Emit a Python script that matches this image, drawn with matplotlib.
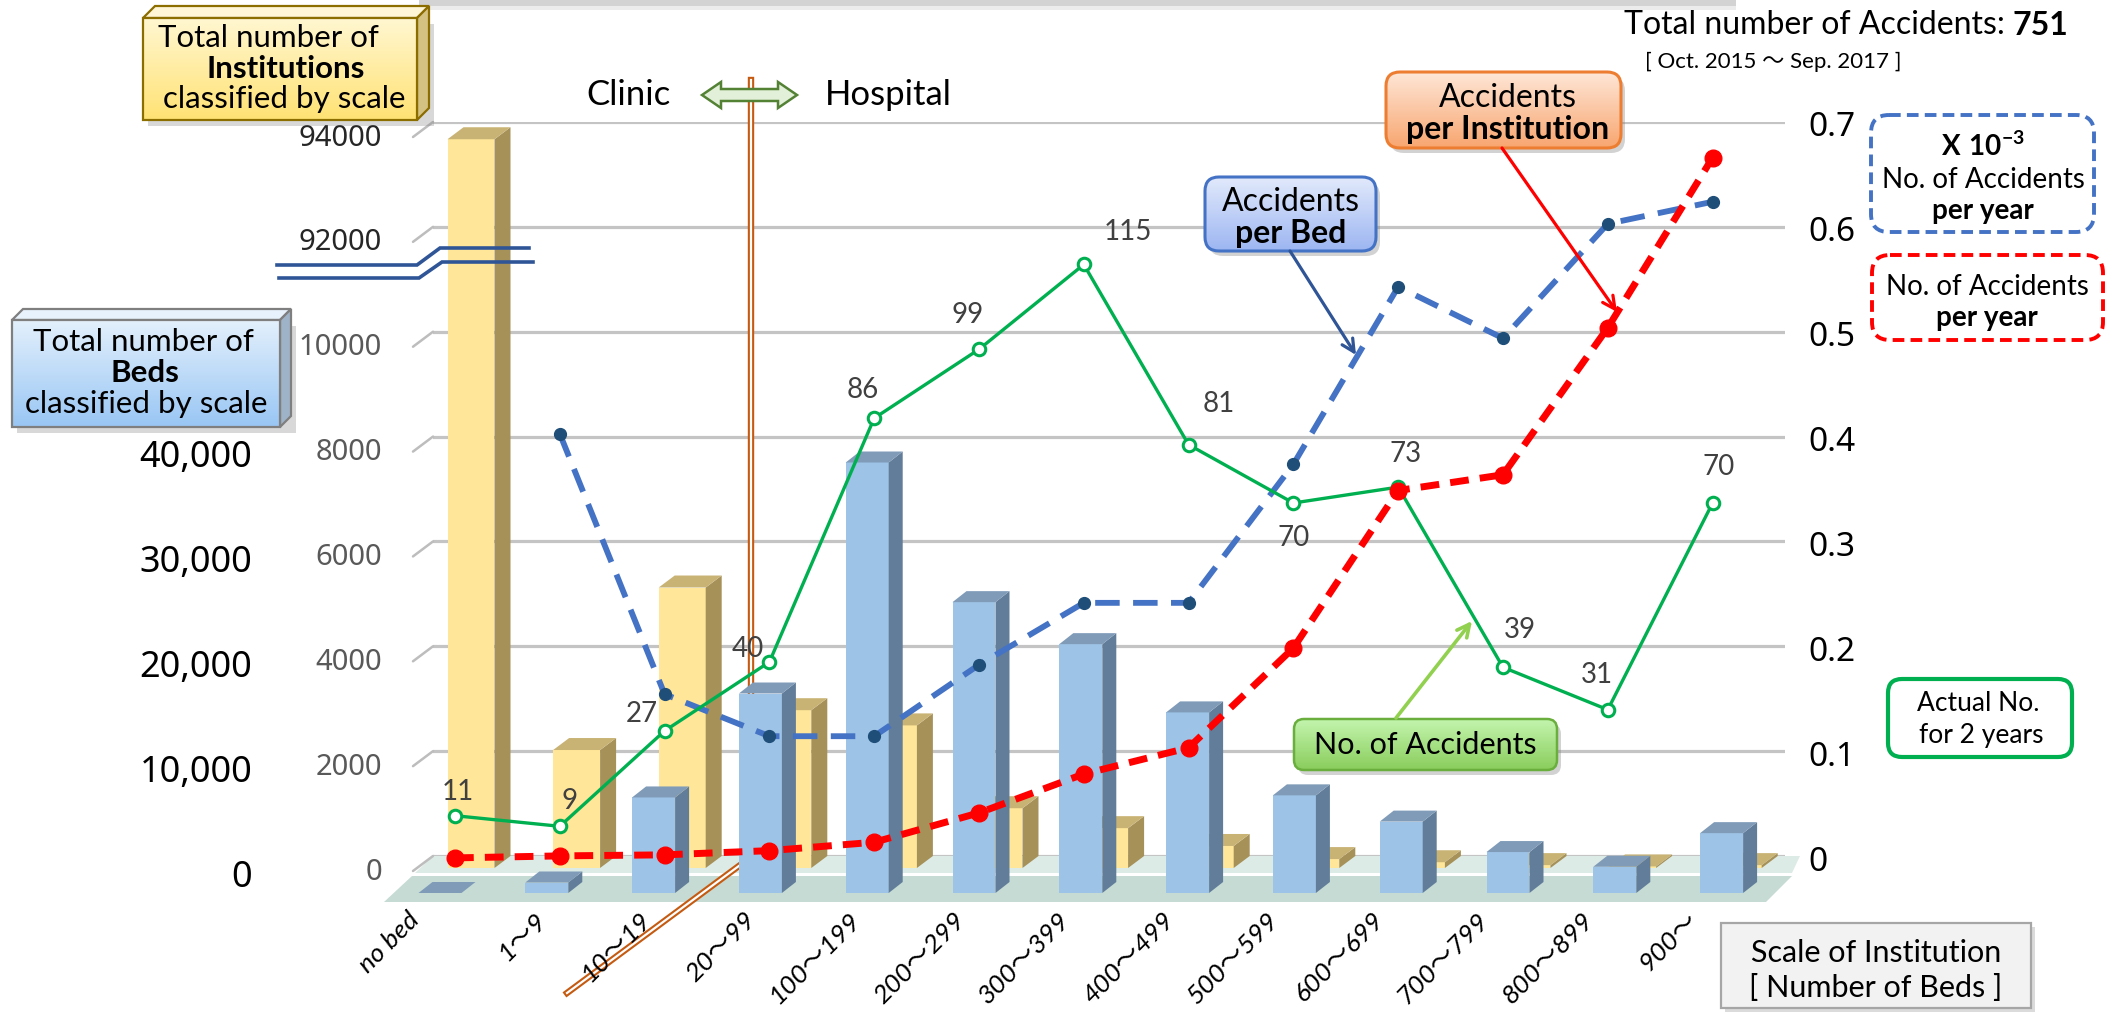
import numpy as np
import matplotlib
matplotlib.use('Agg')
import matplotlib.pyplot as plt
from matplotlib.patches import Polygon, FancyBboxPatch, Rectangle
from matplotlib.transforms import IdentityTransform
from matplotlib.ticker import NullLocator

# ---------------- data ----------------
categories = ['no bed', '1～9', '10～19', '20～99', '100～199', '200～299', '300～399',
              '400～499', '500～599', '600～699', '700～799', '800～899', '900～']
institutions = [93900, 2250, 5350, 3010, 2720, 1140, 760, 420, 170, 110, 55, 30, 55]
beds = [0, 1000, 9100, 19000, 41000, 27700, 23700, 17200, 9300, 6800, 3900, 2500, 5700]
accidents = [11, 9, 27, 40, 86, 99, 115, 81, 70, 73, 39, 31, 70]
per_institution = [0.0001, 0.002, 0.003, 0.007, 0.015, 0.043, 0.080, 0.105, 0.200,
                   0.350, 0.365, 0.505, 0.667]
per_bed = [np.nan, 0.404, 0.156, 0.116, 0.116, 0.184, 0.243, 0.243, 0.375,
           0.544, 0.495, 0.604, 0.625]
inst_ticks = [0, 2000, 4000, 6000, 8000, 10000, 92000, 94000]
inst_tick_labels = ['0', '2000', '4000', '6000', '8000', '10000', '92000', '94000']
bed_ticks = [0, 10000, 20000, 30000, 40000]
bed_tick_labels = ['0', '10,000', '20,000', '30,000', '40,000']
ratio_ticks = [0, 0.1, 0.2, 0.3, 0.4, 0.5, 0.6, 0.7]
ratio_tick_labels = ['0', '0.1', '0.2', '0.3', '0.4', '0.5', '0.6', '0.7']
total_accidents = 751

# ---------------- style ----------------
plt.rcParams['font.family'] = ['Lato', 'Noto Sans CJK JP', 'DejaVu Sans']
plt.rcParams['mathtext.fontset'] = 'custom'
plt.rcParams['mathtext.rm'] = 'Lato'
plt.rcParams['mathtext.bf'] = 'Lato:bold'
NUMFONT = ['Noto Sans', 'DejaVu Sans']

W, H = 2118, 1013
fig = plt.figure(figsize=(W / 100, H / 100), dpi=100)


def add_ax(left, right, top, bottom, z):
    ax = fig.add_axes([left / W, 1 - bottom / H, (right - left) / W, (bottom - top) / H])
    ax.set_zorder(z)
    ax.patch.set_alpha(0)
    return ax


def xlim_for(a, b, left, right):
    return ((left - a) / b, (right - a) / b)


def hide(ax):
    for s in ax.spines.values():
        s.set_visible(False)
    ax.tick_params(left=False, right=False, bottom=False, top=False,
                   labelleft=False, labelright=False, labelbottom=False, labeltop=False)


# ---------------- background (floor, top bar) ----------------
ax_bg = add_ax(0, W, 0, H, 0)
ax_bg.set_xlim(0, W); ax_bg.set_ylim(H, 0); ax_bg.axis('off')
ax_bg.add_patch(Polygon([(433, 856), (1800, 856), (1792, 873), (415, 873)], fc='#DDEBE7', ec='none'))
ax_bg.add_patch(Polygon([(412, 876), (1792, 876), (1766, 902), (384, 902)], fc='#C5DBD4', ec='none'))
ax_bg.add_patch(Rectangle((419, 0), 1317, 6, fc='#D3D3D3', ec='none'))
ax_bg.add_patch(Rectangle((419, 6), 1317, 4, fc='#ECECEC', ec='none'))

# ---------------- back wall (institutions) ----------------
def fwd(y):
    return np.interp(y, [-1e5, 0, 10000, 92000, 2e5], [-1e5, 0, 10000, 12000, 120000])


def inv(t):
    return np.interp(t, [-1e5, 0, 10000, 12000, 120000], [-1e5, 0, 10000, 92000, 2e5])


ax_back = add_ax(433, 1785, 122, 856, 1)
ax_back.set_yscale('function', functions=(fwd, inv))
ax_back.set_ylim(0, 94000)
ax_back.set_xlim(*xlim_for(487, 105.6, 433, 1785))
ax_back.set_yticks(inst_ticks)
ax_back.yaxis.set_minor_locator(NullLocator())
ax_back.set_axisbelow(True)
ax_back.yaxis.grid(True, color='#C4C4C4', lw=2.3)
hide(ax_back)
ytr = ax_back.get_yaxis_transform()
for v, lab in zip(inst_ticks, inst_tick_labels):
    col = '#262626' if v > 10000 else '#595959'
    ax_back.annotate(lab, xy=(0, v), xycoords=ytr, xytext=(-51, -16), textcoords='offset pixels',
                     ha='right', va='center', fontsize=21, family=NUMFONT, color=col,
                     annotation_clip=False)
    ax_back.annotate('', xy=(0, v), xycoords=ytr, xytext=(-20, -15), textcoords='offset pixels',
                     arrowprops=dict(arrowstyle='-', color='#BDBDBD', lw=1.8,
                                     shrinkA=0, shrinkB=0), annotation_clip=False)

xs = np.arange(len(categories))


def faces3d(ax, rects, shift, depth, side_c, top_c, z):
    T = ax.transData
    for r in rects:
        x0, y0 = r.get_x(), r.get_y()
        x1, y1 = x0 + r.get_width(), y0 + r.get_height()
        (p0x, p0y), (p1x, p1y) = T.transform([(x0, y0), (x1, y1)])
        fx0, fy0 = p0x + shift[0], p0y + shift[1]
        fx1, fy1 = p1x + shift[0], p1y + shift[1]
        dx, dy = depth
        side = [(fx1, fy0), (fx1, fy1), (fx1 + dx, fy1 + dy), (fx1 + dx, fy0 + dy)]
        top = [(fx0, fy1), (fx1, fy1), (fx1 + dx, fy1 + dy), (fx0 + dx, fy1 + dy)]
        ax.add_patch(Polygon(side, closed=True, transform=IdentityTransform(), fc=side_c,
                             ec='none', clip_on=False, zorder=z))
        ax.add_patch(Polygon(top, closed=True, transform=IdentityTransform(), fc=top_c,
                             ec='none', clip_on=False, zorder=z))


ybars = ax_back.bar(xs, institutions, width=0.445, color='#FFE699', linewidth=0, zorder=2)
shift_y = matplotlib.transforms.Affine2D().translate(-16, -12)
for r in ybars:
    r.set_transform(ax_back.transData + shift_y)
    r.set_clip_on(False)
faces3d(ax_back, ybars, (-16, -12), (16, 12), '#A69159', '#C9B374', 2)

# Clinic / Hospital divider (between categories 10~19 and 20~99)
xd = ax_back.transData.transform((2.5, 0))[0]
div_x = [xd, xd, xd - 184]
div_y = [H - 80, H - 857, H - 993]
ax_back.plot(div_x, div_y, transform=IdentityTransform(), color='#C55A11', lw=4.6,
             solid_joinstyle='miter', clip_on=False, zorder=3)
ax_back.plot(div_x, div_y, transform=IdentityTransform(), color='white', lw=1.6,
             solid_joinstyle='miter', clip_on=False, zorder=3)

# ---------------- front row (beds) ----------------
ax_front = add_ax(400, 1800, 420.5, 893, 2)
ax_front.set_xlim(*xlim_for(440, 106.8, 400, 1800))
ax_front.set_ylim(0, 45000)
hide(ax_front)
bbars = ax_front.bar(xs, beds, width=0.4026, color='#9DC3E6', linewidth=0, zorder=2)
faces3d(ax_front, bbars, (0, 0), (14, 11), '#627D99', '#7F9BB8', 2)

ax_bedlab = add_ax(262, 263, 453, 873, 2)
ax_bedlab.set_ylim(0, 40000)
for s in ax_bedlab.spines.values():
    s.set_visible(False)
ax_bedlab.set_yticks(bed_ticks, bed_tick_labels, fontsize=26, family=NUMFONT, color='black')
ax_bedlab.tick_params(axis='y', length=0, pad=7)
ax_bedlab.tick_params(axis='x', bottom=False, labelbottom=False)

# ---------------- lines ----------------
ax_acc = add_ax(433, 1785, 185, 874, 3)
ax_acc.set_xlim(*xlim_for(455, 104.8, 433, 1785))
ax_acc.set_ylim(0, 130)
ax_acc.axis('off')

ax_ratio = add_ax(433, 1785, 123, 858, 4)
ax_ratio.set_xlim(*xlim_for(455, 104.8, 433, 1785))
ax_ratio.set_ylim(0, 0.7)
for s in ax_ratio.spines.values():
    s.set_visible(False)
ax_ratio.yaxis.tick_right()
ax_ratio.set_yticks(ratio_ticks, ratio_tick_labels, fontsize=24, family=NUMFONT, color='black')
ax_ratio.tick_params(axis='y', length=0, pad=17)
ax_ratio.tick_params(axis='x', bottom=False, labelbottom=False)
ax_ratio.set_autoscale_on(False)

ax_ratio.plot(xs, per_bed, color='#4472C4', lw=4.2, dashes=(4.2, 2.3), marker='o', ms=8.5,
              mfc='#1F4E79', mec='#1F4E79', zorder=3, clip_on=False)
ax_ratio.plot(xs, accidents, transform=ax_acc.transData, color='#00B050', lw=2.4, marker='o',
              ms=9, mfc='white', mec='#00B050', mew=2.2, zorder=4, clip_on=False)
ax_ratio.plot(xs, per_institution, color='#FF0000', lw=5.0, dashes=(2.7, 1.6), marker='o',
              ms=12, mfc='#FF0000', mec='#FF0000', zorder=5, clip_on=False)

lab_off = [(3, 24), (10, 25), (-23, 17), (-22, 13), (-11, 28), (-11, 34), (44, 32), (30, 41),
           (0, -35), (7, 33), (17, 37), (-11, 35), (6, 36)]
for i, (v, o) in enumerate(zip(accidents, lab_off)):
    ax_ratio.annotate(str(v), xy=(i, v), xycoords=ax_acc.transData, xytext=o,
                      textcoords='offset pixels', ha='center', va='center', fontsize=20,
                      color='#404040', annotation_clip=False, zorder=6)

xtr = ax_ratio.get_xaxis_transform()
for i, c in enumerate(categories):
    dx = -40 if i == 0 else -18
    ax_ratio.annotate(c, xy=(i, 0), xycoords=xtr, xytext=(dx, -58), textcoords='offset pixels',
                      ha='right', va='center', rotation=45, rotation_mode='anchor',
                      fontsize=19, fontstyle='italic', color='black', annotation_clip=False)

# ---------------- foreground annotations ----------------
ax_fg = add_ax(0, W, 0, H, 10)
ax_fg.set_xlim(0, W); ax_fg.set_ylim(H, 0); ax_fg.axis('off')
ax_fg.set_autoscale_on(False)


def hex2rgb(h):
    h = h.lstrip('#')
    return np.array([int(h[i:i + 2], 16) / 255 for i in (0, 2, 4)])


def gradient_fill(patch, x0, y0, x1, y1, c_top, c_bot):
    t = np.linspace(0, 1, 64)[:, None, None]
    g = hex2rgb(c_top)[None, None, :] * (1 - t) + hex2rgb(c_bot)[None, None, :] * t
    im = ax_fg.imshow(g, extent=(x0, x1, y1, y0), origin='upper', aspect='auto',
                      interpolation='bilinear', zorder=patch.get_zorder())
    im.set_clip_path(patch)


def rbox(x0, y0, x1, y1, ec, lw, fc='white', grad=None, ls='-', shadow=False, r=14, z=5):
    if shadow:
        ax_fg.add_patch(FancyBboxPatch((x0 + 4, y0 + 5), x1 - x0, y1 - y0,
                                       boxstyle=f'round,pad=0,rounding_size={r}',
                                       fc='#7F7F7F', ec='none', alpha=0.35, zorder=z - 0.2))
    p = FancyBboxPatch((x0, y0), x1 - x0, y1 - y0, boxstyle=f'round,pad=0,rounding_size={r}',
                       fc=fc, ec='none', zorder=z)
    ax_fg.add_patch(p)
    if grad is not None:
        gradient_fill(p, x0, y0, x1, y1, grad[0], grad[1])
    e = FancyBboxPatch((x0, y0), x1 - x0, y1 - y0, boxstyle=f'round,pad=0,rounding_size={r}',
                       fc='none', ec=ec, lw=lw, ls=ls, zorder=z + 0.1)
    ax_fg.add_patch(e)


def box3d(x0, y0, x1, y1, d, grad, top_c, side_c, ec):
    ax_fg.add_patch(Polygon([(x0 + 5, y0 + 6), (x1 + d + 5, y0 + 6), (x1 + d + 5, y1 + 6),
                             (x0 + 5, y1 + 6)], fc='#808080', ec='none', alpha=0.3, zorder=4.8))
    ax_fg.add_patch(Polygon([(x0, y0), (x1, y0), (x1 + d, y0 - d), (x0 + d, y0 - d)],
                            fc=top_c, ec=ec, lw=1.6, zorder=5, joinstyle='miter'))
    ax_fg.add_patch(Polygon([(x1, y0), (x1 + d, y0 - d), (x1 + d, y1 - d), (x1, y1)],
                            fc=side_c, ec=ec, lw=1.6, zorder=5, joinstyle='miter'))
    p = Rectangle((x0, y0), x1 - x0, y1 - y0, fc='white', ec='none', zorder=5)
    ax_fg.add_patch(p)
    gradient_fill(p, x0, y0, x1, y1, grad[0], grad[1])
    ax_fg.add_patch(Rectangle((x0, y0), x1 - x0, y1 - y0, fc='none', ec=ec, lw=1.6, zorder=5.2))


def txt(x, y, s, size, bold=False, color='black', ha='center', **kw):
    return ax_fg.text(x, y, s, fontsize=size, fontweight='bold' if bold else 'normal',
                      color=color, ha=ha, va='center', zorder=7, **kw)


# Institutions 3D label box
box3d(143, 18, 417, 120, 12, ('#FFF7D1', '#FFE274'), '#FFF6D8', '#D4C282', '#8C6D00')
txt(268, 38, 'Total number of', 22.5)
txt(286, 69, 'Institutions', 22.5, bold=True)
txt(284, 99, 'classified by scale', 22.5)

# Beds 3D label box
box3d(12, 320, 280, 427, 11, ('#E3F0FC', '#99C6F4'), '#E8F2FC', '#9FB3C8', '#7F7F7F')
txt(143, 342, 'Total number of', 22.5)
txt(145, 373, 'Beds', 22.5, bold=True)
txt(146, 404, 'classified by scale', 22.5)

# Broken-axis symbol
ax_fg.plot([277, 417, 440, 529], [265, 265, 248, 248], color='#2F5597', lw=2.6, zorder=6,
           solid_joinstyle='miter')
ax_fg.plot([279, 419, 442, 533], [278, 278, 262, 262], color='#2F5597', lw=2.6, zorder=6,
           solid_joinstyle='miter')

# Clinic <=> Hospital
txt(628, 95, 'Clinic', 25)
txt(825, 95, 'Hospital', 25, ha='left')
ax_fg.add_patch(Polygon([(702, 95), (721, 82), (721, 89), (778, 89), (778, 82), (797, 95),
                         (778, 108), (778, 101), (721, 101), (721, 108)],
                        fc='#E2F0D9', ec='#548235', lw=1.8, zorder=6))

# Title
t_num = txt(2068, 25, str(total_accidents), 23, bold=True, ha='right')
ax_fg.annotate('Total number of Accidents:', xy=(0, 0.5), xycoords=t_num, xytext=(-7, 0),
               textcoords='offset pixels', ha='right', va='center', fontsize=23, zorder=7)
txt(1773, 62, '[ Oct. 2015 ～ Sep. 2017 ]', 16)

# Accidents per Institution
rbox(1386, 72, 1621, 148, '#ED7D31', 2.2, grad=('#FEE6D6', '#F8A670'), shadow=True)
txt(1508, 98, 'Accidents', 23)
txt(1508, 129, 'per Institution', 23, bold=True)
ax_fg.annotate('', xy=(1617, 312), xytext=(1502, 148),
               arrowprops=dict(arrowstyle='->,head_length=0.9,head_width=0.45', color='#FF0000',
                               lw=2.3, shrinkA=0, shrinkB=0), zorder=6)

# Accidents per Bed
rbox(1205, 177, 1376, 251, '#4472C4', 2.2, grad=('#E1E9FB', '#9DB6F2'), shadow=True)
txt(1291, 202, 'Accidents', 23)
txt(1291, 233, 'per Bed', 23, bold=True)
ax_fg.annotate('', xy=(1356, 355), xytext=(1290, 251),
               arrowprops=dict(arrowstyle='->,head_length=0.9,head_width=0.45', color='#2F5597',
                               lw=2.3, shrinkA=0, shrinkB=0), zorder=6)

# No. of Accidents
rbox(1294, 719, 1557, 770, '#6AAF3D', 1.8, grad=('#C3F5AE', '#8ACD5C'), shadow=True, r=10)
txt(1425, 745, 'No. of Accidents', 22)
ax_fg.annotate('', xy=(1472, 621), xytext=(1396, 718),
               arrowprops=dict(arrowstyle='->,head_length=0.9,head_width=0.45', color='#92D050',
                               lw=2.6, shrinkA=0, shrinkB=0), zorder=6)

# Right legend boxes
rbox(1871, 115, 2094, 232, '#4472C4', 2.8, ls=(0, (3, 1.6)), r=18)
txt(1983, 146, r'$\mathbf{X\ 10^{-3}}$', 20)
txt(1983, 180, 'No. of Accidents', 20)
txt(1983, 211, 'per year', 20, bold=True)

rbox(1872, 255, 2103, 340, '#FF0000', 2.8, ls=(0, (3, 1.6)), r=18)
txt(1987, 287, 'No. of Accidents', 20)
txt(1987, 318, 'per year', 20, bold=True)

rbox(1888, 679, 2072, 757, '#00B050', 3.0, r=14)
txt(1978, 703, 'Actual No.', 19)
txt(1981, 735, 'for 2 years', 19)

# Scale of Institution
ax_fg.add_patch(Rectangle((1725, 927), 310, 85, fc='#9A9A9A', ec='none', alpha=0.35, zorder=4.8))
ax_fg.add_patch(Rectangle((1721, 923), 310, 85, fc='#F2F2F2', ec='#A6A6A6', lw=1.6, zorder=5))
txt(1876, 953, 'Scale of Institution', 22)
txt(1876, 988, '[ Number of Beds ]', 22)

fig.savefig('out.png', dpi=100)
